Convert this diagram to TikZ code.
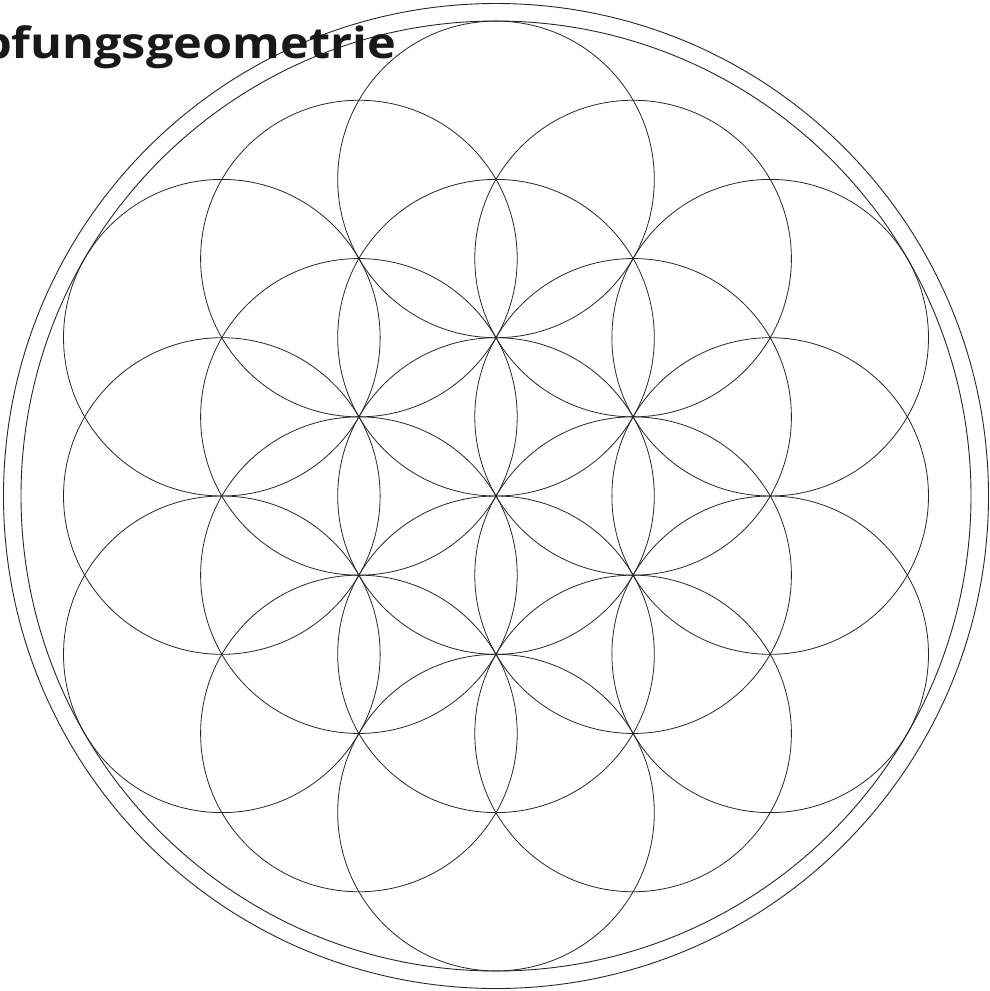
\documentclass[tikz,border=0pt]{standalone}
\usepackage{fontspec}
\setsansfont{Open Sans}
\usetikzlibrary{calc}
\newcommand\titlefont{\sffamily\bfseries\fontsize{43}{48}\selectfont}
\newsavebox\tailbox
\begin{document}
\sbox\tailbox{\titlefont fungsgeometrie}%
\begin{tikzpicture}[x=1pt,y=-1pt,
  petal/.style={line width=0.8pt, draw=black!85},
  rim/.style={line width=0.9pt, draw=black!85}]
\useasboundingbox (0,0) rectangle (990,991);
\def\rr{158.3}
\coordinate (O) at (496,496);
% seed of life / flower
\draw[petal] (O) circle (\rr);
\foreach \a in {30,90,...,330}{
  \draw[petal] ($(O)+(\a:\rr)$) circle (\rr);
  \draw[petal] ($(O)+(\a:2*\rr)$) circle (\rr);
}
\foreach \a in {0,60,...,300}{
  \draw[petal] ($(O)+(\a:1.7320508*\rr)$) circle (\rr);
}
% outer rings
\draw[rim] (O) circle (475);
\draw[rim] (O) circle (492.5);
% title
\pgfmathsetmacro\tsx{384/\wd\tailbox}
\node[anchor=base east, inner sep=0pt, text=black!90] (title) at (396,58)
  {\scalebox{\tsx}[1]{\titlefont Schöpfungsgeometrie}};
\end{tikzpicture}
\end{document}
